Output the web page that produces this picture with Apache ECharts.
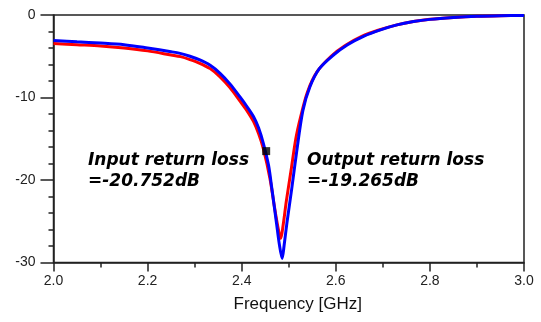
<!DOCTYPE html>
<html><head><meta charset="utf-8">
<script src="https://cdn.jsdelivr.net/npm/echarts@6/dist/echarts.min.js"></script>
<style>html,body{margin:0;padding:0;background:#fff}#c{width:541px;height:322px}</style>
</head><body><div id="c"></div>
<script>
// Frequency [GHz] / dB readings
const inputFreq = [2.00,2.05,2.10,2.15,2.20,2.25,2.27,2.29,2.311,2.333,2.354,2.375,2.396,2.41,2.425,2.436,2.446,2.46,2.47,2.478,2.483,2.488,2.495,2.505,2.515,2.525,2.54,2.56,2.59,2.62,2.655,2.69,2.73,2.765,2.80,2.85,2.90,2.95,3.00];
const inputDb   = [-3.45,-3.6,-3.75,-4.0,-4.35,-4.85,-5.05,-5.4,-5.85,-6.5,-7.5,-8.8,-10.4,-11.5,-12.9,-14.4,-16.2,-19.8,-23.4,-26.0,-27.1,-25.5,-22.5,-18.8,-15.0,-12.4,-9.3,-6.9,-5.0,-3.7,-2.6,-1.85,-1.2,-0.8,-0.52,-0.3,-0.15,-0.08,-0.05];
const outputFreq = [2.00,2.05,2.10,2.15,2.20,2.25,2.269,2.29,2.311,2.333,2.354,2.375,2.396,2.41,2.425,2.436,2.446,2.457,2.464,2.474,2.480,2.486,2.490,2.496,2.506,2.517,2.53,2.545,2.565,2.595,2.625,2.66,2.695,2.73,2.765,2.80,2.85,2.90,2.95,3.00];
const outputDb   = [-3.1,-3.25,-3.4,-3.6,-4.0,-4.45,-4.65,-5.0,-5.45,-6.1,-7.07,-8.35,-9.9,-11.0,-12.3,-13.7,-15.55,-18.2,-21.0,-25.25,-27.8,-29.5,-28.0,-25.25,-21.2,-16.5,-11.6,-8.7,-6.5,-4.85,-3.6,-2.55,-1.8,-1.2,-0.8,-0.53,-0.3,-0.15,-0.08,-0.05];
const markerPoint = [2.452, -16.5];
const xTicks = ['2.0','2.2','2.4','2.6','2.8','3.0'];
const yTicks = ['0','-10','-20','-30'];
const inputLabel = ['Input return loss', '=-20.752dB'];
const outputLabel = ['Output return loss', '=-19.265dB'];
const xName = 'Frequency [GHz]';

const zip = (a, b) => a.map((v, i) => [v, b[i]]);
const chart = echarts.init(document.getElementById('c'), null, {renderer: 'canvas'});
const axisColor = '#222';
const font = "'Liberation Sans', Arial, sans-serif";
const noteFont = "italic bold 17px 'DejaVu Sans', Verdana, sans-serif";
chart.setOption({
  animation: false,
  grid: {left: 53.5, right: 17, top: 15, bottom: 59.5, show: true, borderColor: axisColor, borderWidth: 1.5, containLabel: false},
  xAxis: {
    type: 'value', min: 2.0, max: 3.0, interval: 0.2,
    name: xName, nameLocation: 'middle', nameGap: 33,
    nameTextStyle: {fontFamily: font, fontSize: 17, color: '#111', padding: [0, 0, 0, 18]},
    axisLine: {show: true, onZero: false, lineStyle: {color: axisColor, width: 1.5}},
    axisTick: {show: true, length: 9, lineStyle: {color: axisColor, width: 1.5}},
    minorTick: {show: true, splitNumber: 2, length: 5, lineStyle: {color: axisColor, width: 1.5}},
    splitLine: {show: false},
    axisLabel: {fontFamily: font, fontSize: 14, color: '#222', margin: 12,
      formatter: v => xTicks[Math.round((v - 2.0) / 0.2)] || ''}
  },
  yAxis: {
    type: 'value', min: -30, max: 0, interval: 10,
    axisLine: {show: true, onZero: false, lineStyle: {color: axisColor, width: 1.5}},
    axisTick: {show: true, length: 13, lineStyle: {color: axisColor, width: 1.5}},
    minorTick: {show: true, splitNumber: 5, length: 5, lineStyle: {color: axisColor, width: 1.5}},
    splitLine: {show: false},
    axisLabel: {fontFamily: font, fontSize: 14, color: '#222', margin: 18,
      formatter: v => yTicks[Math.round(-v / 10)] || ''}
  },
  series: [
    {type: 'line', data: zip(inputFreq, inputDb), smooth: 0.3, showSymbol: false,
     lineStyle: {color: '#ff0000', width: 3}, z: 2},
    {type: 'line', data: zip(outputFreq, outputDb), smooth: 0.3, showSymbol: false,
     lineStyle: {color: '#0000ff', width: 3}, z: 3},
    {type: 'scatter', data: [markerPoint], symbol: 'rect', symbolSize: 8,
     itemStyle: {color: '#000'}, z: 4}
  ],
  graphic: [
    {type: 'text', left: 88, top: 150, style: {text: inputLabel.join('\n'), font: noteFont, fill: '#000', lineHeight: 21}},
    {type: 'text', left: 307, top: 150, style: {text: outputLabel.join('\n'), font: noteFont, fill: '#000', lineHeight: 21}}
  ]
});
</script></body></html>
